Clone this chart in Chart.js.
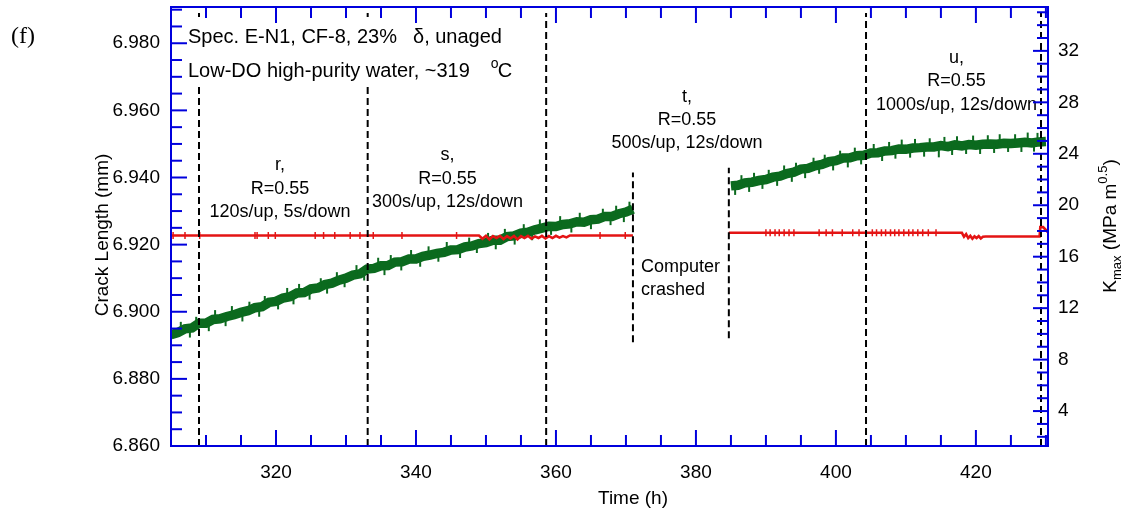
<!DOCTYPE html>
<html><head><meta charset="utf-8">
<script src="https://cdn.jsdelivr.net/npm/chart.js@4.4.1/dist/chart.umd.min.js"></script>
<style>html,body{margin:0;padding:0;background:#fff;overflow:hidden}canvas{display:block}</style>
</head><body>
<canvas id="c" width="1131" height="516"></canvas>
<script>
// ---- tick labels ----
const xTicks = [320, 340, 360, 380, 400, 420];
const yTicks = [6.86, 6.88, 6.90, 6.92, 6.94, 6.96, 6.98];
const y2Ticks = [4, 8, 12, 16, 20, 24, 28, 32];

// ---- crack length (mm), before computer crash ----
const timeA = [305,306,307,308,309,310,311,312,313,314,315,316,317,318,319,320,321,322,323,324,325,326,327,328,329,330,331,332,333,334,335,336,337,338,339,340,341,342,343,344,345,346,347,348,349,350,351,352,353,354,355,356,357,358,359,360,361,362,363,364,365,366,367,368,369,370,371];
const crackA = [6.8932,6.8938,6.8949,6.8952,6.8966,6.8966,6.8977,6.8979,6.8986,6.8991,6.8998,6.9003,6.9012,6.9015,6.9028,6.9031,6.9041,6.9045,6.9056,6.9057,6.9068,6.9071,6.9081,6.9085,6.9094,6.9100,6.9109,6.9113,6.9127,6.9129,6.9137,6.9138,6.9148,6.9149,6.9157,6.9157,6.9165,6.9169,6.9174,6.9177,6.9184,6.9185,6.9193,6.9196,6.9203,6.9206,6.9213,6.9213,6.9224,6.9226,6.9234,6.9237,6.9244,6.9249,6.9255,6.9254,6.9260,6.9262,6.9268,6.9267,6.9274,6.9276,6.9284,6.9284,6.9292,6.9297,6.9306];

// ---- crack length (mm), after restart ----
const timeB = [385,386,387,388,389,390,391,392,393,394,395,396,397,398,399,400,401,402,403,404,405,406,407,408,409,410,411,412,413,414,415,416,417,418,419,420,421,422,423,424,425,426,427,428,429,430];
const crackB = [6.9375,6.9377,6.9384,6.9386,6.9391,6.9394,6.9401,6.9404,6.9412,6.9416,6.9425,6.9427,6.9435,6.9439,6.9447,6.9450,6.9458,6.9459,6.9465,6.9466,6.9473,6.9474,6.9479,6.9480,6.9485,6.9484,6.9488,6.9489,6.9491,6.9491,6.9495,6.9492,6.9497,6.9494,6.9498,6.9496,6.9499,6.9500,6.9499,6.9502,6.9501,6.9503,6.9505,6.9503,6.9506,6.9507];

// ---- crack length scatter excursions (mm) ----
const crackSpikeTime = [306.4,307.7,308.6,310.4,311.3,312.8,313.7,315.2,316.2,317.6,318.4,320.3,321.6,322.5,323.3,324.8,326.4,327.3,328.7,329.8,331.5,332.6,334.6,335.5,336.4,337.9,339.3,340.6,341.8,343.2,344.4,346.3,347.6,348.7,350.3,351.4,352.7,354.1,355.4,356.6,357.7,359.3,360.6,362.2,363.4,365.0,366.7,367.8,368.6,369.7,370.5,
  385.6,386.5,387.6,388.3,389.5,390.4,391.6,392.6,393.7,394.3,395.6,396.8,397.6,398.4,399.6,400.6,401.7,402.7,403.6,405.4,406.6,407.6,408.5,409.4,410.6,411.3,412.6,413.4,414.7,415.5,416.6,417.3,418.6,419.6,420.6,421.7,422.6,423.4,424.6,425.6,426.5,427.4,428.3,428.8];
const crackSpikeValue = [6.8955,6.8938,6.8970,6.8957,6.8990,6.8972,6.9002,6.8986,6.9015,6.9000,6.9032,6.9022,6.9056,6.9037,6.9068,6.9051,6.9085,6.9069,6.9103,6.9088,6.9124,6.9108,6.9146,6.9124,6.9154,6.9138,6.9169,6.9149,6.9180,6.9164,6.9193,6.9175,6.9206,6.9190,6.9220,6.9201,6.9232,6.9215,6.9246,6.9228,6.9260,6.9244,6.9270,6.9251,6.9280,6.9261,6.9292,6.9273,6.9301,6.9282,6.9313,
  6.9363,6.9392,6.9372,6.9399,6.9381,6.9408,6.9390,6.9421,6.9402,6.9429,6.9413,6.9444,6.9426,6.9453,6.9436,6.9465,6.9445,6.9474,6.9454,6.9485,6.9464,6.9491,6.9471,6.9498,6.9474,6.9500,6.9477,6.9502,6.9475,6.9506,6.9482,6.9508,6.9485,6.9510,6.9485,6.9511,6.9488,6.9514,6.9491,6.9514,6.9491,6.9519,6.9492,6.9518];

// ---- Kmax (MPa m^0.5) ----
const kTimeA = [305,349,349.5,350,350.5,351,351.5,352,352.5,353,353.5,354,354.5,355,355.5,356,356.5,357,357.5,358,358.5,359,359.5,360,360.5,361,361.5,362,371];
const kA = [17.65,17.65,17.4,17.62,17.35,17.6,17.45,17.62,17.38,17.6,17.42,17.62,17.35,17.6,17.45,17.62,17.4,17.58,17.45,17.62,17.42,17.6,17.45,17.62,17.48,17.6,17.5,17.65,17.65];
const kTimeB = [384.7,418.0,418.3,418.6,418.9,419.2,419.5,419.8,420.1,420.4,420.7,421.0,421.4,429.1,429.2,429.6,430.3];
const kB = [17.86,17.86,17.55,17.75,17.45,17.62,17.4,17.58,17.45,17.6,17.42,17.55,17.57,17.57,18.3,18.3,17.9];
const kSpikeTime = [305.3,307,309.1,317,317.3,318.9,319.9,325.6,326.8,328.4,330.6,332,333.9,338,345.8,366.3,369.9,390,390.6,391.3,391.9,392.6,393.3,394,397.6,398.6,399.5,400.9,402.4,403.3,405.2,405.8,406.5,407.1,407.8,408.4,409,409.7,410.4,411,411.7,412.4,413.2,414.3];
const kSpikeValue = [17.65,17.65,17.65,17.65,17.65,17.65,17.65,17.65,17.65,17.65,17.65,17.65,17.65,17.65,17.65,17.65,17.65,17.86,17.86,17.86,17.86,17.86,17.86,17.86,17.86,17.86,17.86,17.86,17.86,17.86,17.86,17.86,17.86,17.86,17.86,17.86,17.86,17.86,17.86,17.86,17.86,17.86,17.86,17.86];

// ---- dashed segment boundaries (h) and their extents (mm) ----
const markerTime = [309.0, 333.1, 358.6, 371.0, 384.7, 404.3, 429.3];
const markerTop = [6.989, 6.989, 6.989, 6.9415, 6.9429, 6.989, 6.989];
const markerBottom = [6.86, 6.86, 6.86, 6.8909, 6.8921, 6.86, 6.86];

const pts = (xs, ys) => xs.map((x, i) => ({x, y: ys[i]}));
const FONT = "'Liberation Sans', Arial, sans-serif";
const GREEN = '#0b6a1e', RED = '#e41414', BLUE = '#0000dd';

const datasets = [];
datasets.push({data: pts(kSpikeTime, kSpikeValue), yAxisID: 'y2', showLine: false, pointStyle: 'line', rotation: 90, pointRadius: 3.5, borderColor: RED, borderWidth: 1.5, order: 1});
datasets.push({data: pts(kTimeA, kA), yAxisID: 'y2', showLine: true, borderColor: RED, borderWidth: 2.6, pointRadius: 0, order: 2});
datasets.push({data: pts(kTimeB, kB), yAxisID: 'y2', showLine: true, borderColor: RED, borderWidth: 2.6, pointRadius: 0, order: 2});
datasets.push({data: pts(crackSpikeTime, crackSpikeValue), yAxisID: 'y', showLine: false, pointStyle: 'line', rotation: 90, pointRadius: 5, borderColor: GREEN, borderWidth: 2, order: 3});
datasets.push({data: pts(timeA, crackA), yAxisID: 'y', showLine: true, borderColor: GREEN, borderWidth: 9.5, pointRadius: 0, borderJoinStyle: 'miter', order: 3});
datasets.push({data: pts(timeB, crackB), yAxisID: 'y', showLine: true, borderColor: GREEN, borderWidth: 9.5, pointRadius: 0, borderJoinStyle: 'miter', order: 3});
markerTime.forEach((t, i) => {
  datasets.push({data: [{x: t, y: markerBottom[i]}, {x: t, y: markerTop[i]}], yAxisID: 'y', showLine: true, borderColor: '#000', borderWidth: 2, borderDash: [7, 4], pointRadius: 0, order: 0});
});

const decor = {
  id: 'decor',
  afterDatasetsDraw(chart) {
    const ctx = chart.ctx;
    ctx.save();
    // white box behind the specimen text
    ctx.fillStyle = '#fff';
    ctx.fillRect(176, 20, 340, 66);
    ctx.fillStyle = '#000';
    ctx.font = '20px ' + FONT;
    ctx.textAlign = 'left'; ctx.textBaseline = 'alphabetic';
    ctx.fillText('Spec. E-N1, CF-8, 23%', 188, 42.5);
    ctx.fillText('δ, unaged', 413, 42.5);
    const l2 = 'Low-DO high-purity water, ~319';
    ctx.fillText(l2, 188, 76.5);
    const w2 = ctx.measureText(l2).width;
    ctx.font = '14px ' + FONT;
    ctx.fillText('o', 188 + w2 + 21, 68);
    ctx.font = '20px ' + FONT;
    ctx.fillText('C', 188 + w2 + 28, 76.5);
    ctx.font = '18px ' + FONT;
    ctx.textAlign = 'center';
    const blocks = [
      [280, [170, 194, 217], ['r,', 'R=0.55', '120s/up, 5s/down']],
      [447.5, [160, 184, 207], ['s,', 'R=0.55', '300s/up, 12s/down']],
      [687, [102, 125, 148], ['t,', 'R=0.55', '500s/up, 12s/down']],
      [956.5, [63, 86, 110], ['u,', 'R=0.55', '1000s/up, 12s/down']]
    ];
    blocks.forEach(([cx, ys, txt]) => txt.forEach((s, i) => ctx.fillText(s, cx, ys[i])));
    ctx.textAlign = 'left';
    ctx.fillText('Computer', 641, 272);
    ctx.fillText('crashed', 641, 295);
    ctx.restore();
  },
  afterDraw(chart) {
    const ctx = chart.ctx, a = chart.chartArea;
    const sx = chart.scales.x, sy = chart.scales.y, sy2 = chart.scales.y2;
    ctx.save();
    ctx.strokeStyle = BLUE; ctx.lineWidth = 2;
    const ln = (x1, y1, x2, y2) => { ctx.beginPath(); ctx.moveTo(x1, y1); ctx.lineTo(x2, y2); ctx.stroke(); };
    ctx.strokeRect(a.left, a.top, a.right - a.left, a.bottom - a.top);
    for (let t = 305; t <= 430; t += 5) {
      const p = sx.getPixelForValue(t); const L = t % 20 === 0 ? 16 : 11;
      ln(p, a.bottom, p, a.bottom - L); ln(p, a.top, p, a.top + L);
    }
    for (let i = 0; i <= 26; i++) {
      const p = sy.getPixelForValue(6.86 + i * 0.005); const L = i % 4 === 0 ? 16 : 11;
      ln(a.left, p, a.left + L, p);
    }
    for (let v = 2; v <= 35; v++) {
      const p = sy2.getPixelForValue(v); const L = v % 4 === 0 ? 15 : 11;
      ln(a.right, p, a.right - L, p);
    }
    // titles
    ctx.fillStyle = '#000';
    ctx.font = '19px ' + FONT;
    ctx.textAlign = 'center'; ctx.textBaseline = 'middle';
    ctx.fillText('Time (h)', 633, 499);
    ctx.save(); ctx.translate(103, 235); ctx.rotate(-Math.PI / 2);
    ctx.fillText('Crack Length (mm)', 0, 0); ctx.restore();
    // right title with sub/superscript
    ctx.save(); ctx.translate(1116, 226); ctx.rotate(-Math.PI / 2);
    ctx.textAlign = 'left'; ctx.textBaseline = 'alphabetic';
    const parts = [['K', 19, 0], ['max', 13, 5], [' (MPa m', 19, 0], ['0.5', 13, -9], [')', 19, 0]];
    let tw = 0; parts.forEach(([s, f]) => { ctx.font = f + 'px ' + FONT; tw += ctx.measureText(s).width; });
    let x = -tw / 2;
    parts.forEach(([s, f, dy]) => { ctx.font = f + 'px ' + FONT; ctx.fillText(s, x, dy); x += ctx.measureText(s).width; });
    ctx.restore();
    ctx.font = "24px 'Liberation Serif', 'Times New Roman', serif";
    ctx.textAlign = 'left';
    ctx.fillText('(f)', 11, 37);
    ctx.restore();
  }
};

const noPadV = s => { s.paddingTop = 0; s.paddingBottom = 0; };
new Chart(document.getElementById('c'), {
  type: 'scatter',
  data: {datasets},
  options: {
    responsive: false, animation: false, devicePixelRatio: 1,
    layout: {padding: {top: 6, left: 0, right: 0, bottom: 0}},
    plugins: {legend: {display: false}, tooltip: {enabled: false}},
    scales: {
      x: {type: 'linear', position: 'bottom', min: 305, max: 430.3,
        grid: {display: false}, border: {display: false},
        afterFit: s => { s.height = 70; s.paddingLeft = 0; s.paddingRight = 0; },
        afterBuildTicks: s => { s.ticks = xTicks.map(v => ({value: v})); },
        ticks: {padding: 7, color: '#000', font: {family: FONT, size: 19}, maxRotation: 0, callback: v => String(v)}},
      y: {type: 'linear', position: 'left', min: 6.86, max: 6.9908,
        grid: {display: false}, border: {display: false},
        afterFit: s => { s.width = 171; noPadV(s); },
        afterBuildTicks: s => { s.ticks = yTicks.map(v => ({value: v})); },
        ticks: {padding: 3, color: '#000', font: {family: FONT, size: 19}, callback: v => Number(v).toFixed(3)}},
      y2: {type: 'linear', position: 'right', min: 1.285, max: 35.41,
        grid: {display: false}, border: {display: false},
        afterFit: s => { s.width = 83; noPadV(s); },
        afterBuildTicks: s => { s.ticks = y2Ticks.map(v => ({value: v})); },
        ticks: {padding: 2, color: '#000', font: {family: FONT, size: 19}, callback: v => String(v)}}
    }
  },
  plugins: [decor]
});
</script>
</body></html>
